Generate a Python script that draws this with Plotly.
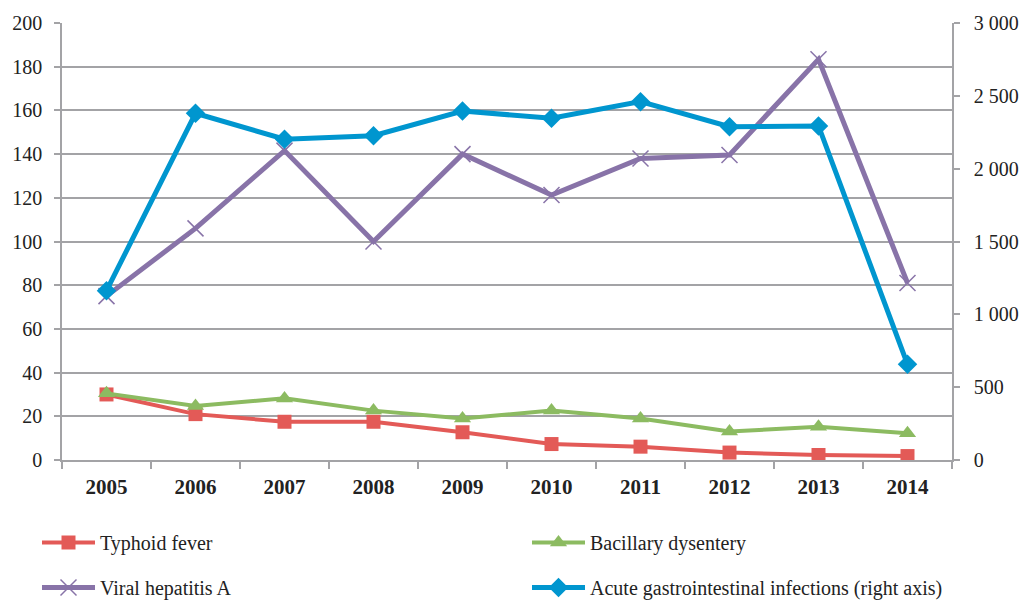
import plotly.graph_objects as go

years = ["2005", "2006", "2007", "2008", "2009", "2010", "2011", "2012", "2013", "2014"]
typhoid = [30, 21, 17.5, 17.5, 12.7, 7.3, 6.1, 3.4, 2.3, 1.8]
bacillary = [30.5, 24.7, 28.2, 22.6, 19.0, 22.6, 19.0, 13.0, 15.2, 12.2]
hepatitis_a = [75, 106, 141.6, 100, 140, 121.3, 138, 139.6, 183.4, 81]
acute_gi = [1162, 2380, 2202, 2226, 2396, 2346, 2460, 2288, 2293, 657]

RED = "#e35a57"
GREEN = "#8cbb61"
PURPLE = "#8873a8"
BLUE = "#0096cf"
GRID = "#a3a3a6"
TEXT = "#222222"
SERIF = "Liberation Serif, Times New Roman, serif"

fig = go.Figure()

fig.add_trace(go.Scatter(
    x=years, y=typhoid, name="Typhoid fever", mode="lines+markers",
    line=dict(color=RED, width=4),
    marker=dict(symbol="square", size=14, color=RED),
    legend="legend", legendgroup="typhoid",
))
fig.add_trace(go.Scatter(
    x=years, y=bacillary, name="Bacillary dysentery", mode="lines+markers",
    line=dict(color=GREEN, width=4),
    marker=dict(symbol="triangle-up", size=15, color=GREEN),
    legend="legend2", legendgroup="bacillary",
))
fig.add_trace(go.Scatter(
    x=years, y=hepatitis_a, name="Viral hepatitis A", mode="lines+markers",
    line=dict(color=PURPLE, width=5),
    marker=dict(symbol="x-thin", size=16, color=PURPLE,
                line=dict(color=PURPLE, width=1.5)),
    legend="legend", legendgroup="hepatitis",
))
fig.add_trace(go.Scatter(
    x=years, y=acute_gi, name="Acute gastrointestinal infections (right axis)",
    mode="lines+markers", yaxis="y2",
    line=dict(color=BLUE, width=5),
    marker=dict(symbol="diamond", size=15, color=BLUE),
    legend="legend2", legendgroup="acute",
))

# two legend columns, each a vertical list of two entries
legend_common = dict(
    orientation="v", xref="container", yref="container",
    xanchor="left", yanchor="top",
    font=dict(family=SERIF, size=20, color=TEXT),
    itemwidth=53, tracegroupgap=16, bgcolor="rgba(0,0,0,0)",
)

fig.update_layout(
    width=1023, height=600,
    margin=dict(l=62, r=71, t=23, b=140, autoexpand=False),
    paper_bgcolor="white", plot_bgcolor="white",
    separators=". ",
    showlegend=True,
    legend=dict(x=37 / 1023, y=1 - 523 / 600, **legend_common),
    legend2=dict(x=527 / 1023, y=1 - 523 / 600, **legend_common),
    xaxis=dict(
        type="category", range=[-0.5, len(years) - 0.5], tickson="boundaries",
        showline=True, linecolor=GRID, linewidth=1.5,
        ticks="outside", ticklen=7, tickcolor=GRID, tickwidth=1.5,
        showgrid=False,
        tickfont=dict(family=SERIF, size=21, color=TEXT, weight="bold"),
        ticklabelstandoff=7,
    ),
    yaxis=dict(
        range=[0, 200], dtick=20, tick0=0,
        showline=True, linecolor=GRID, linewidth=1.5,
        ticks="outside", ticklen=6, tickcolor=GRID, tickwidth=1.5,
        showgrid=True, gridcolor=GRID, gridwidth=1.5,
        zeroline=False,
        tickfont=dict(family=SERIF, size=20, color=TEXT),
        ticklabelstandoff=8,
    ),
    yaxis2=dict(
        range=[0, 3000], dtick=500, tick0=0,
        overlaying="y", side="right",
        showline=True, linecolor=GRID, linewidth=1.5,
        ticks="outside", ticklen=6, tickcolor=GRID, tickwidth=1.5,
        showgrid=False, zeroline=False,
        separatethousands=True,
        tickfont=dict(family=SERIF, size=20, color=TEXT),
        ticklabelstandoff=10,
    ),
)

fig.write_html("out.html")
